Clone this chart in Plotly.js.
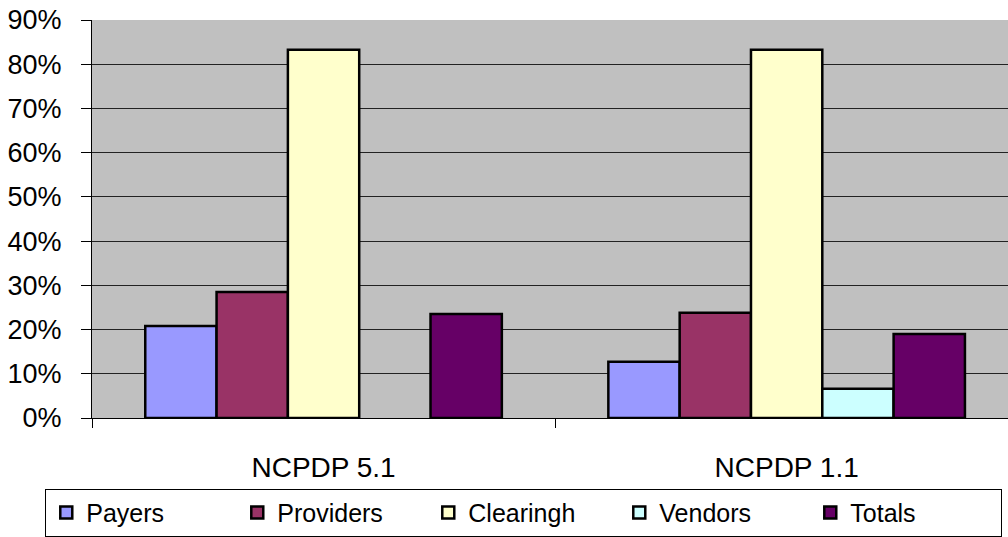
<!DOCTYPE html>
<html>
<head>
<meta charset="utf-8">
<script src="https://cdn.plot.ly/plotly-3.0.1.min.js"></script>
<style>
  html, body { margin: 0; padding: 0; background: #fff; }
  #plot { width: 1008px; height: 537px; }
</style>
</head>
<body>
<div id="plot"></div>
<script>
// categories and series values (fractions, shown as %)
let categories = ['NCPDP 5.1', 'NCPDP 1.1'];
let payers = [0.208, 0.127];
let providers = [0.285, 0.238];
let clearingh = [0.833, 0.833];
let vendors = [null, 0.066];
let totals = [0.235, 0.190];
let yTicks = [0, 0.1, 0.2, 0.3, 0.4, 0.5, 0.6, 0.7, 0.8, 0.9];

let fontFamily = '"Liberation Sans", Arial, sans-serif';

function makeBar(name, values, color) {
  return {
    type: 'bar',
    name: name,
    x: categories,
    y: values,
    marker: { color: color, line: { color: '#000000', width: 2.5 } },
    hoverinfo: 'skip'
  };
}

let data = [
  makeBar('Payers', payers, '#9999FF'),
  makeBar('Providers', providers, '#993366'),
  makeBar('Clearingh', clearingh, '#FFFFCC'),
  makeBar('Vendors', vendors, '#CCFFFF'),
  makeBar('Totals', totals, '#660066')
];

let layout = {
  width: 1008,
  height: 537,
  margin: { l: 92, r: 0, t: 20, b: 119, pad: 0 },
  paper_bgcolor: '#FFFFFF',
  plot_bgcolor: '#C0C0C0',
  barmode: 'group',
  bargap: 0.23,
  bargroupgap: 0,
  font: { family: fontFamily, color: '#000000', size: 27 },
  showlegend: true,
  legend: {
    orientation: 'h',
    x: -0.051,
    xanchor: 'left',
    y: -0.178,
    yanchor: 'top',
    bordercolor: '#000000',
    borderwidth: 1,
    bgcolor: '#FFFFFF',
    font: { family: fontFamily, size: 25, color: '#000000' },
    entrywidth: 146,
    entrywidthmode: 'pixels',
    itemwidth: 30,
    traceorder: 'normal'
  },
  xaxis: {
    type: 'category',
    range: [-0.5, 1.478],
    showline: true,
    linecolor: '#000000',
    linewidth: 1,
    ticks: 'outside',
    tickson: 'boundaries',
    ticklen: 9,
    tickcolor: '#000000',
    ticklabelstandoff: 24,
    showgrid: false,
    automargin: false,
    tickfont: { family: fontFamily, size: 28, color: '#000000' },
    fixedrange: true
  },
  yaxis: {
    range: [0, 0.9],
    tickvals: yTicks,
    tickformat: '.0%',
    showline: true,
    linecolor: '#000000',
    linewidth: 1,
    ticks: 'outside',
    ticklen: 10,
    tickcolor: '#000000',
    ticklabelstandoff: 14,
    showgrid: true,
    gridcolor: '#222222',
    gridwidth: 1,
    zeroline: false,
    automargin: false,
    tickfont: { family: fontFamily, size: 27, color: '#000000' },
    fixedrange: true
  }
};

Plotly.newPlot('plot', data, layout, { displayModeBar: false, staticPlot: true });
</script>
</body>
</html>
